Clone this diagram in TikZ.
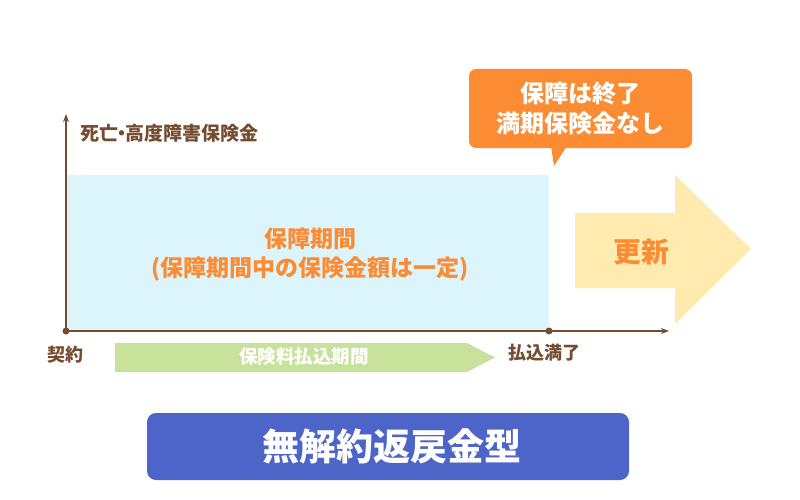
\documentclass[tikz,border=0pt]{standalone}
\usepackage{fontspec}
\setmainfont{Noto Sans CJK JP}
\usetikzlibrary{arrows.meta}
\definecolor{brownc}{RGB}{117,76,48}
\definecolor{orangec}{RGB}{252,140,52}
\definecolor{bluebg}{RGB}{220,245,252}
\definecolor{yellowc}{RGB}{255,235,175}
\definecolor{greenc}{RGB}{200,226,156}
\definecolor{buttonc}{RGB}{77,101,200}
\tikzset{
  lbl/.style={text=brownc, inner sep=0, font=\bfseries\fontsize{18}{18}\selectfont},
  axis/.style={draw=brownc, line width=1.6pt, -{Stealth[length=8pt,width=6pt]}},
  dotc/.style={circle, fill=brownc, inner sep=0, minimum size=7pt},
}
\begin{document}
\begin{tikzpicture}[x=1pt,y=-1pt]
\useasboundingbox (0,0) rectangle (800,500);
% coverage period box
\node[fill=bluebg, draw=none, inner sep=0, outer sep=0, minimum width=483pt, minimum height=156pt, anchor=south west] (period) at (66,331) {};
\node[text=orangec, align=center, font=\bfseries\fontsize{23}{29}\selectfont] (periodtxt) at (310,255) {保障期間\\(保障期間中の保険金額は一定)};
% axes
\coordinate (origin) at (66,331);
\coordinate (ytop) at (66,114);
\coordinate (xend) at (669,331);
\coordinate (endpt) at (549,331);
\draw[axis] (origin) -- (ytop);
\draw[axis] (origin) -- (xend);
\node[dotc] (o) at (origin) {};
\node[dotc] (e) at (endpt) {};
% labels
\node[lbl, anchor=west, font=\bfseries\fontsize{19}{19}\selectfont] (ylabel) at (80,133) {死亡\hspace{-0.3em}・\hspace{-0.3em}高度障害保険金};
\node[lbl] (start) at (65,355) {契約};
\node[lbl] (paid) at (544,353) {払込満了};
% green premium arrow
\fill[greenc] (115,343) -- (467,343) -- (495,357.5) -- (467,372) -- (115,372) -- cycle;
\node[text=white, font=\bfseries\fontsize{18.5}{18.5}\selectfont] (prem) at (304,357) {保険料払込期間};
% callout
\fill[orangec] (551,146) -- (554,166) -- (567,146) -- cycle;
\node[fill=orangec, rounded corners=7pt, minimum width=223pt, minimum height=79pt, inner sep=0, text=white, align=center, font=\bfseries\fontsize{24}{30}\selectfont] (call) at (580.5,108.5) {保障は終了\\満期保険金なし};
% renewal arrow
\fill[yellowc] (575,213) -- (675,213) -- (675,175) -- (751,249) -- (675,324) -- (675,288) -- (575,288) -- cycle;
\node[text=orangec, font=\bfseries\fontsize{28}{28}\selectfont] (renew) at (641,252) {更新};
% type button
\node[fill=buttonc, rounded corners=9pt, minimum width=482pt, minimum height=67pt, inner sep=0] (type) at (388,446.5) {};
\node[text=white, font=\bfseries\fontsize{37}{37}\selectfont] (typetxt) at (392,446.5) {無解約返戻金型};
\end{tikzpicture}
\end{document}
